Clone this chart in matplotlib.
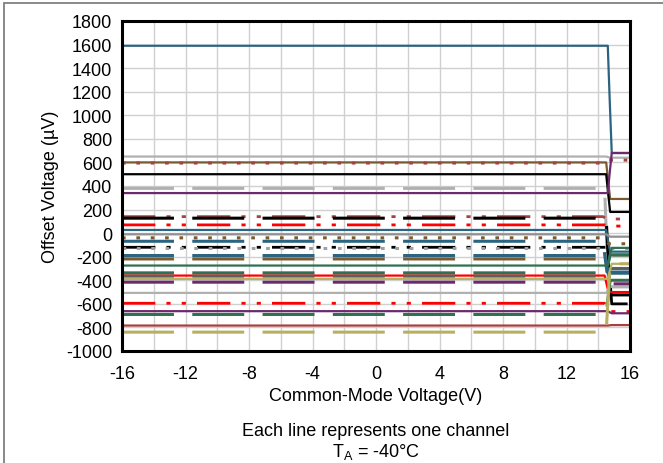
import matplotlib
matplotlib.use("Agg")
import matplotlib.pyplot as plt
from matplotlib.patches import Rectangle

plt.rcParams['font.family'] = ['Liberation Sans', 'DejaVu Sans']
plt.rcParams['axes.unicode_minus'] = False

# ── data: one entry per channel ──────────────────────────────────────────────
# flat offset (uV) over the common-mode range, knee voltage, value after knee
levels = [1590, 650, 600, 595, 500, 380, 340, 140, 127, 70,
          27, -10, -40, -69, -120, -125, -190, -219, -275, -337,
          -360, -365, -388, -416, -507, -595, -662, -690, -784, -840]
knees = [14.6, 14.5, 14.5, 14.4, 14.5, 14.4, 14.6, 14.3, 14.5, 14.4,
         14.5, 14.5, 14.4, 14.3, 14.6, 14.5, 14.4, 14.5, 14.6, 14.5,
         14.4, 14.4, 14.6, 14.5, 14.5, 14.4, 14.6, 14.5, 14.6, 14.5]
ends = [680, 640, 290, 620, 180, -456, 680, 120, -524, 60,
        -157, -30, -90, -330, -600, -125, -340, -185, -125, -185,
        -500, -300, -260, -430, -456, -665, -680, -400, -780, -260]

colors = ['#2b6480', '#b0b0b0', '#7a5a30', '#a84040', '#000000',
          '#b0b0b0', '#6b2a6b', '#a84040', '#000000', '#ff0000',
          '#2b6480', '#909090', '#7a5a30', '#2b6480', '#000000',
          '#a0a0a0', '#2b6480', '#7a5a30', '#2f7050', '#2f7050',
          '#ff0000', '#606060', '#b8b060', '#6b2a6b', '#b0b0b0',
          '#ff0000', '#6b2a6b', '#2f7050', '#a84040', '#b8b060']
styles = ['solid', 'solid', 'solid', 'dot', 'solid',
          'dash', 'solid', 'dashdot', 'dash', 'dashdot',
          'solid', 'solid', 'dot', 'dash', 'dashdot',
          'dot', 'dash', 'dash', 'solid', 'dash',
          'solid', 'dash', 'solid', 'dash', 'solid',
          'dashdot', 'solid', 'dash', 'solid', 'dash']

x_ticks = [-16, -12, -8, -4, 0, 4, 8, 12, 16]
y_ticks = list(range(-1000, 1801, 200))

dash_map = {
    'solid': None,
    'dash': (0, (17, 6)),
    'dashdot': (0, (12, 4, 1.5, 4, 1.5, 4)),
    'dot': (0, (1.2, 3.5)),
}

FS = 13
fig = plt.figure(figsize=(6.63, 4.64), dpi=100)
W, H = 663, 464
ax = fig.add_axes([122 / W, 1 - 352 / H, 508 / W, 330 / H])

for lv, kn, en, c, st in zip(levels, knees, ends, colors, styles):
    xs = [-16, kn, kn + 0.12, kn + 0.25, 16]
    ys = [lv, lv, (lv + en) / 2, en, en]
    lw = 2.2 if st in ('dash', 'dot') else 1.6
    if st == 'dashdot':
        lw = 2.0
    ls = dash_map[st]
    if ls is None:
        ax.plot(xs, ys, color=c, lw=lw, solid_capstyle='butt')
    else:
        ax.plot(xs, ys, color=c, lw=lw, linestyle=ls, dash_capstyle='butt')

ax.set_xlim(-16, 16)
ax.set_ylim(-1000, 1800)
ax.set_xticks(x_ticks)
ax.set_xticks(range(-16, 17, 2), minor=True)
ax.set_yticks(y_ticks)
ax.grid(True, which='both', color='#d0d0d0', lw=1.0)
ax.set_axisbelow(True)
ax.tick_params(which='both', length=0, labelsize=FS)
ax.tick_params(axis='y', pad=7)
ax.tick_params(axis='x', pad=10)
for s in ax.spines.values():
    s.set_linewidth(2.2)
    s.set_color('black')

ax.set_xlabel('Common-Mode Voltage(V)', fontsize=FS, labelpad=4)
ax.set_ylabel('Offset Voltage (\u00b5V)', fontsize=FS, labelpad=5)

fig.text(376 / W, 1 - 432 / H, 'Each line represents one channel',
         ha='center', va='center', fontsize=FS)
fig.text(376 / W, 1 - 452 / H, r'T$_\mathregular{A}$ = -40' + '\u00b0C',
         ha='center', va='center', fontsize=FS)

fig.patches.append(Rectangle((4 / W, -0.1), 1.2, 1 - 4 / H + 0.1,
                             transform=fig.transFigure, fill=False,
                             edgecolor='#808080', lw=1.3))

fig.savefig('out.png', dpi=100)
